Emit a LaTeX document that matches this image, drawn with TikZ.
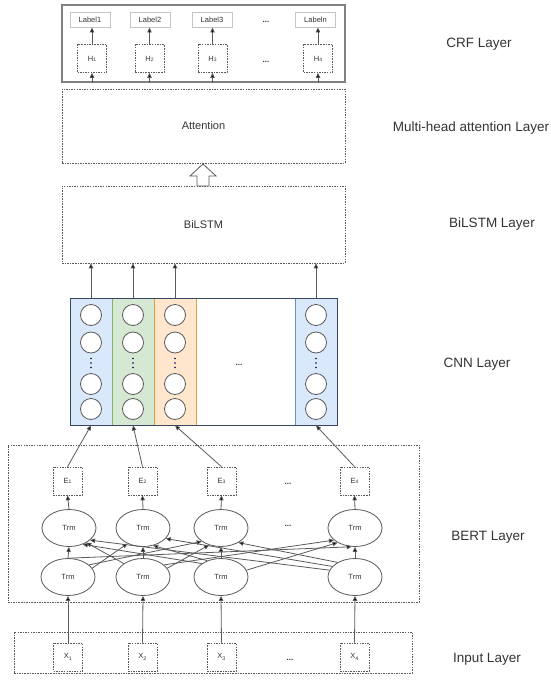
\documentclass[tikz,border=0pt]{standalone}
\usepackage{fontspec}
\setmainfont{Liberation Sans}
\usetikzlibrary{arrows.meta,shapes.geometric}
\definecolor{bfill}{HTML}{DAE8FC}\definecolor{bline}{HTML}{6C8EBF}
\definecolor{gfill}{HTML}{D5E8D4}\definecolor{gline}{HTML}{82B366}
\definecolor{ofill}{HTML}{FFE6CC}\definecolor{oline}{HTML}{E0A040}
\definecolor{txt}{HTML}{333333}
\definecolor{ln}{HTML}{5A5A5A}
\newcommand{\sm}[1]{{\fontsize{5}{5}\selectfont #1}}
\begin{document}
\begin{tikzpicture}[x=1pt,y=-1pt,
  every node/.style={text=txt, inner sep=0pt},
  dbox/.style={draw=ln, dash pattern=on 1.5pt off 1.1pt, line width=0.6pt},
  smallbox/.style={dbox, minimum width=29pt, minimum height=28pt, font=\fontsize{7.5}{8}\selectfont},
  labbox/.style={draw=black!22, line width=0.9pt, minimum width=40pt, minimum height=15pt, font=\fontsize{7.5}{8}\selectfont},
  bigbox/.style={dbox, minimum width=283pt, font=\fontsize{11}{12}\selectfont},
  layer/.style={font=\fontsize{13.5}{14}\selectfont},
  trm/.style={ellipse, draw=ln, line width=0.8pt, minimum width=54pt, minimum height=37pt, font=\fontsize{7.5}{8}\selectfont},
  neuron/.style={circle, draw=ln, fill=white, line width=0.8pt, minimum size=21pt},
  arr/.style={draw=ln, line width=0.8pt, -{Triangle[length=5pt,width=4.4pt,fill=black]}},
  dots/.style={font=\fontsize{8}{8}\selectfont\bfseries}
]
\useasboundingbox (0,0) rectangle (550,683);

% ---------------- CRF layer ----------------
\node[draw=black!50, line width=1.3pt, minimum width=283pt, minimum height=77pt] (crf) at (203.5,43.5) {};
\node[labbox] (l1) at (90,19.5) {Label1};
\node[labbox] (l2) at (150,19.5) {Label2};
\node[labbox] (l3) at (212,19.5) {Label3};
\node[labbox] (l4) at (315.5,19.5) {Labeln};
\node[dots] (dl) at (266,22) {...};
\node[smallbox] (h1) at (92,58.5) {H\sm{1}};
\node[smallbox] (h2) at (149.5,58.5) {H\sm{2}};
\node[smallbox] (h3) at (212.5,58.5) {H\sm{3}};
\node[smallbox] (h4) at (318,58.5) {H\sm{4}};
\node[dots] (dh) at (266,62) {...};
\foreach \i in {1,2,3,4}{
  \draw[arr] (h\i.north) -- (h\i.north |- l\i.south);
  \draw[arr] (h\i |- crf.south) -- (h\i.south);
}

% ---------------- Attention / BiLSTM ----------------
\node[bigbox, minimum height=74pt] (att) at (203.5,126) {Attention};
\node[bigbox, minimum height=77pt] (bil) at (203.5,224.5) {BiLSTM};
\draw[ln, line width=0.8pt, fill=white] (197,186) -- (197,176) -- (190,176) -- (203,164) -- (216,176) -- (209,176) -- (209,186) -- cycle;

% ---------------- CNN layer ----------------
\node[draw=bline, fill=bfill, line width=0.9pt, minimum width=42pt, minimum height=127pt] (col1) at (91,361.5) {};
\node[draw=gline, fill=gfill, line width=0.9pt, minimum width=42pt, minimum height=127pt] (col2) at (133,361.5) {};
\node[draw=oline, fill=ofill, line width=0.9pt, minimum width=42pt, minimum height=127pt] (col3) at (175,361.5) {};
\node[draw=bline, fill=bfill, line width=0.9pt, minimum width=42pt, minimum height=127pt] (col4) at (316,361.5) {};
\node[draw=black!50!bline, line width=1pt, minimum width=267pt, minimum height=127pt] (cnn) at (203.5,361.5) {};
\foreach \i in {1,2,3,4}{
  \node[neuron] (n\i a) at (col\i |- 0,315) {};
  \node[neuron] (n\i b) at (col\i |- 0,342.5) {};
  \node[neuron] (n\i c) at (col\i |- 0,384) {};
  \node[neuron] (n\i d) at (col\i |- 0,409) {};
  \foreach \yy in {358.5,363,367.5}{
    \fill[black!70!blue] (col\i |- 0,\yy) circle (0.9pt);
  }
  \draw[arr] (col\i.north) -- (col\i |- bil.south);
}
\node[dots] (dc) at (239,365) {...};

% ---------------- BERT layer ----------------
\node[dbox, minimum width=411pt, minimum height=157pt] (bert) at (213.5,523.5) {};
\node[smallbox] (e1) at (67.5,481) {E\sm{1}};
\node[smallbox] (e2) at (142.5,481) {E\sm{2}};
\node[smallbox] (e3) at (221.5,481) {E\sm{3}};
\node[smallbox] (e4) at (354.5,481) {E\sm{4}};
\node[dots] (de) at (288,484) {...};
\node[trm] (t1) at (69,528) {Trm};
\node[trm] (t2) at (143,528) {Trm};
\node[trm] (t3) at (221,528) {Trm};
\node[trm] (t4) at (355,528) {Trm};
\node[dots] (dt) at (288,526) {...};
\node[trm] (b1) at (68,577) {Trm};
\node[trm] (b2) at (143,577) {Trm};
\node[trm] (b3) at (221,577) {Trm};
\node[trm] (b4) at (355,577) {Trm};
\foreach \i in {1,2,3,4}{
  \draw[arr] (t\i.north) -- (e\i.south);
  \draw[arr] (b\i.north) -- (t\i.south);
  \draw[arr] (e\i.north) -- (col\i.south);
}
\draw[arr] (b1.20) -- (t2.-135);
\draw[arr] (b1.30) -- (t3.-145);
\draw[arr] (b1.85) -- (t4.-100);
\draw[arr] (b2.145) -- (t1.-40);
\draw[arr] (b2.20) -- (t3.-125);
\draw[arr] (b2.30) -- (t4.-150);
\draw[arr] (b3.145) -- (t1.-50);
\draw[arr] (b3.130) -- (t2.-60);
\draw[arr] (b3.15) -- (t4.-140);
\draw[arr] (b4.165) -- (t1.-30);
\draw[arr] (b4.155) -- (t2.-25);
\draw[arr] (b4.140) -- (t3.-40);

% ---------------- Input layer ----------------
\node[dbox, minimum width=398pt, minimum height=41pt] (inp) at (213,652.5) {};
\node[smallbox] (x1) at (68,657) {X\textsubscript{1}};
\node[smallbox] (x2) at (142.5,657) {X\textsubscript{2}};
\node[smallbox] (x3) at (221.5,657) {X\textsubscript{3}};
\node[smallbox] (x4) at (354.5,657) {X\textsubscript{4}};
\node[dots] (dx) at (290,660) {...};
\foreach \i in {1,2,3,4}{
  \draw[arr] (x\i.north) -- (b\i.south);
}

% ---------------- layer labels ----------------
\node[layer] (lc) at (479,44) {CRF Layer};
\node[layer] (lm) at (471,128) {Multi-head attention Layer};
\node[layer] (lb) at (492,224) {BiLSTM Layer};
\node[layer] (ln) at (477,364) {CNN Layer};
\node[layer] (le) at (488,537) {BERT Layer};
\node[layer] (li) at (487,659) {Input Layer};
\end{tikzpicture}
\end{document}
